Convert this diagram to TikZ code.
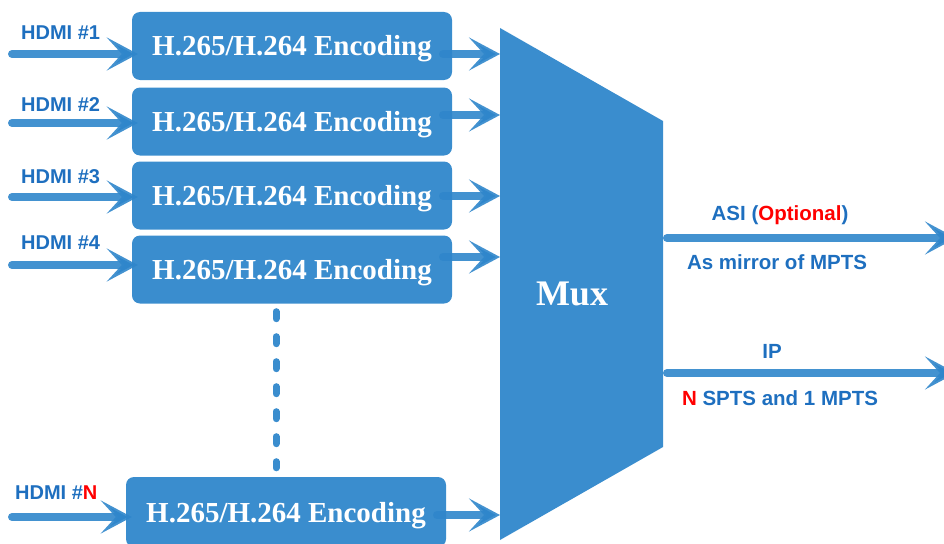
\documentclass[tikz,border=0pt]{standalone}
\usepackage{fontspec}
\setmainfont{Liberation Serif}
\setsansfont{Liberation Sans}
\usetikzlibrary{arrows.meta}
\definecolor{boxblue}{HTML}{3A8DCE}
\definecolor{lineblue}{HTML}{2F86CB}
\definecolor{txtblue}{HTML}{1E6FBF}
\definecolor{optred}{HTML}{FF0000}
\newcommand\enctext{H.265/H.264 Encoding}
\begin{document}
\begin{tikzpicture}[x=1pt,y=-1pt,
  encbox/.style={fill=boxblue, rounded corners=8pt, minimum width=320pt, minimum height=68pt, inner sep=0pt, text=white, text height=26pt, text depth=6pt, font=\fontsize{29}{32}\selectfont\bfseries},
  hlabel/.style={text=txtblue, font=\sffamily\bfseries\fontsize{20}{23}\selectfont, inner sep=0pt, anchor=west},
  rlabel/.style={text=txtblue, font=\sffamily\bfseries\fontsize{20.5}{23}\selectfont, inner sep=0pt},
  flow/.style={line width=8pt, draw=lineblue, draw opacity=0.9, line cap=round, -{Stealth[length=31pt,width=33pt,inset=15pt]}},
  dots/.style={line width=7pt, draw=boxblue, line cap=round, dash pattern=on 7pt off 18pt},
  ]
\useasboundingbox (0,0) rectangle (944,543);
\clip (0,0) rectangle (944,543);

% encoder boxes
\node[encbox] (e1) at (292,46) {\enctext};
\node[encbox] (e2) at (292,121.5) {\enctext};
\node[encbox] (e3) at (292,195.5) {\enctext};
\node[encbox] (e4) at (292,269.5) {\enctext};
\node[encbox, minimum height=70pt] (eN) at (286,512) {\enctext};

% labels
\node[hlabel] (l1) at (21,33) {HDMI \#1};
\node[hlabel] (l2) at (21,105) {HDMI \#2};
\node[hlabel] (l3) at (21,177) {HDMI \#3};
\node[hlabel] (l4) at (21,243) {HDMI \#4};
\node[hlabel] (lN) at (15,493) {HDMI \#\textcolor{optred}{N}};

% input arrows
\coordinate (s1) at (12,54);
\coordinate (s2) at (12,123);
\coordinate (s3) at (12,197);
\coordinate (s4) at (12,265);
\coordinate (sN) at (12,517);
\draw[flow] (s1) -- ([xshift=6pt]s1 -| e1.west);
\draw[flow] (s2) -- ([xshift=6pt]s2 -| e2.west);
\draw[flow] (s3) -- ([xshift=6pt]s3 -| e3.west);
\draw[flow] (s4) -- ([xshift=6pt]s4 -| e4.west);
\draw[flow] (sN) -- ([xshift=6pt]sN -| eN.west);

% mux
\coordinate (muxL) at (500,284);
\fill[boxblue] (500,28) -- (663,121) -- (663,447) -- (500,540) -- cycle;
\node[text=white, font=\fontsize{36}{40}\selectfont\bfseries] (mux) at (572,294) {Mux};

% outputs from boxes
\coordinate (p1) at (443,54);
\coordinate (p2) at (443,115);
\coordinate (p3) at (443,196);
\coordinate (p4) at (443,257);
\coordinate (pN) at (437,515);
\draw[flow] (p1) -- (p1 -| muxL);
\draw[flow] (p2) -- (p2 -| muxL);
\draw[flow] (p3) -- (p3 -| muxL);
\draw[flow] (p4) -- (p4 -| muxL);
\draw[flow] (pN) -- (pN -| muxL);

% dotted connector
\coordinate (dx) at (276,0);
\draw[dots] ([yshift=-8pt]e4.south -| dx) -- ([yshift=9pt]eN.north -| dx);

% mux outputs
\coordinate (a0) at (667,238);
\coordinate (a1) at (956,238);
\coordinate (b0) at (667,373);
\coordinate (b1) at (956,373);
\draw[flow] (a0) -- (a1);
\draw[flow] (b0) -- (b1);
\node[rlabel] (asi) at (780,215) {ASI (\textcolor{optred}{Optional})};
\node[rlabel] (mir) at (777,262) {As mirror of MPTS};
\node[rlabel] (ip) at (772,351) {IP};
\node[rlabel] (spts) at (780,398) {\textcolor{optred}{N} SPTS and 1 MPTS};
\end{tikzpicture}
\end{document}
